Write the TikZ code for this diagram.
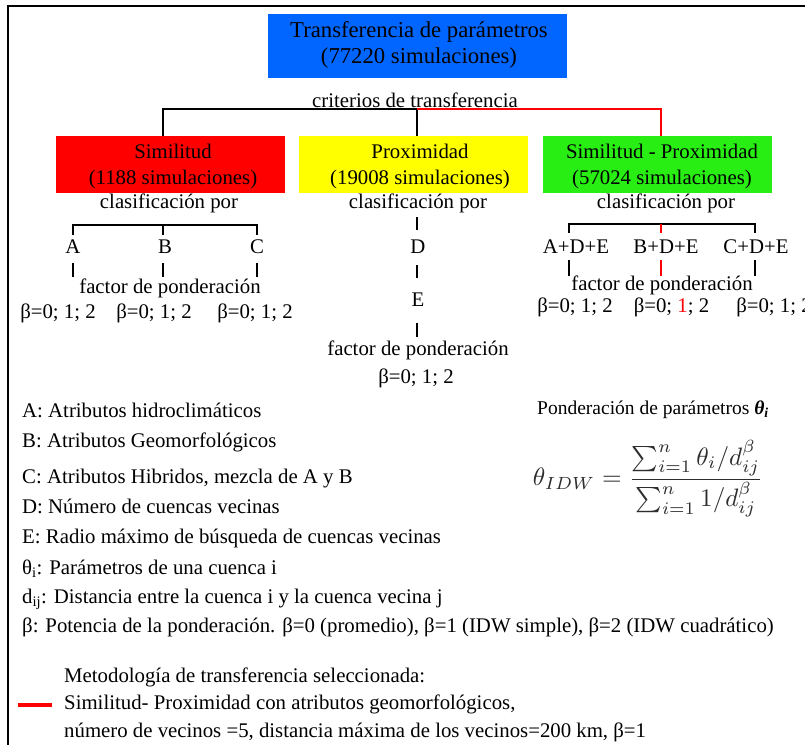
\documentclass[tikz,border=0pt]{standalone}
\usepackage{fontspec}
\setmainfont{Liberation Serif}
\usepackage{amsmath}
\definecolor{tblue}{RGB}{0,102,255}
\definecolor{tred}{RGB}{255,0,0}
\definecolor{tyellow}{RGB}{255,255,0}
\definecolor{tgreen}{RGB}{40,238,20}
\definecolor{fgray}{RGB}{45,45,45}
\begin{document}
\begin{tikzpicture}[x=1pt,y=-1pt,
  lbl/.style={inner sep=0pt, font=\fontsize{20.8}{26}\selectfont},
  ttl/.style={inner sep=0pt, font=\fontsize{22.7}{26}\selectfont, align=center},
  cbox/.style={draw=none, inner sep=0pt, minimum width=229pt, minimum height=57pt},
  tline/.style={line width=1.8pt},
  leg/.style={inner sep=0pt, anchor=base west, font=\fontsize{20.8}{26}\selectfont},
]
\useasboundingbox (0,0) rectangle (805,744);
\clip (0,0) rectangle (805,744);
\fill[white] (0,0) rectangle (805,744);
\draw[line width=2pt] (7.5,760) -- (7.5,6) -- (820,6);

% title
\node[cbox, fill=tblue, minimum width=299pt, minimum height=64pt] (top) at (417.5,46) {};
\node[ttl] (toptxt) at (419,45) {Transferencia de parámetros\\(77220 simulaciones)};
\node[lbl] (crit) at (415,100) {criterios de transferencia};

% boxes
\node[cbox, fill=tred] (sim) at (170,164.5) {};
\node[cbox, fill=tyellow] (prox) at (413,164.5) {};
\node[cbox, fill=tgreen] (sp) at (657.5,164.5) {};
\node[lbl, align=center] (simtxt) at (173,166) {Similitud\\(1188 simulaciones)};
\node[lbl, align=center] (proxtxt) at (420,166) {Proximidad\\(19008 simulaciones)};
\node[lbl, align=center] (sptxt) at (662,166) {Similitud - Proximidad\\(57024 simulaciones)};

% top connectors
\coordinate (j1) at (163,109);
\coordinate (j2) at (417,109);
\coordinate (j3) at (661,109);
\draw[tline] (j1 |- sim.north) -- (j1) -- (j2) -- (j2 |- prox.north);
\draw[tline, tred] (j2) -- (j3) -- (j3 |- sp.north);

% left subtree
\node[lbl] (cl1) at (169,203) {clasificación por};
\node[lbl] (A) at (73,247) {A};
\node[lbl] (B) at (165,247) {B};
\node[lbl] (C) at (257,247) {C};
\coordinate (la1) at (73,225); \coordinate (la2) at (73,235);
\coordinate (lb1) at (163,225); \coordinate (lb2) at (163,235);
\coordinate (lc1) at (257,225); \coordinate (lc2) at (257,235);
\draw[tline] (la2) -- (la1) -- (lc1) -- (lc2);
\draw[tline] (lb1) -- (lb2);
\coordinate (la3) at (73,263); \coordinate (la4) at (73,277);
\coordinate (lb3) at (163,263); \coordinate (lb4) at (163,277);
\coordinate (lc3) at (257,263); \coordinate (lc4) at (257,277);
\draw[tline] (la3) -- (la4);
\draw[tline] (lb3) -- (lb4);
\draw[tline] (lc3) -- (lc4);
\node[lbl] (f1) at (170,288) {factor de ponderación};
\node[lbl] (b1) at (58,313) {β=0; 1; 2};
\node[lbl] (b2) at (154,313) {β=0; 1; 2};
\node[lbl] (b3) at (255,313) {β=0; 1; 2};

% middle subtree
\node[lbl] (cl2) at (418,203) {clasificación por};
\node[lbl] (D) at (418,247) {D};
\node[lbl] (E) at (418,300) {E};
\coordinate (m1) at (417,217); \coordinate (m2) at (417,230);
\coordinate (m3) at (417,265); \coordinate (m4) at (417,278);
\coordinate (m5) at (417,323); \coordinate (m6) at (417,337);
\draw[tline] (m1) -- (m2);
\draw[tline] (m3) -- (m4);
\draw[tline] (m5) -- (m6);
\node[lbl] (f2) at (418,350) {factor de ponderación};
\node[lbl] (b4) at (416,378) {β=0; 1; 2};

% right subtree
\node[lbl] (cl3) at (666,203) {clasificación por};
\node[lbl] (ADE) at (576,247) {A+D+E};
\node[lbl] (BDE) at (666,247) {B+D+E};
\node[lbl] (CDE) at (756,247) {C+D+E};
\coordinate (r1) at (569,224); \coordinate (r2) at (569,233);
\coordinate (r3) at (661,224); \coordinate (r4) at (661,233);
\coordinate (r5) at (755,224); \coordinate (r6) at (755,233);
\draw[tline] (r2) -- (r1) -- (r5) -- (r6);
\draw[tline, tred] (r3) -- (r4);
\coordinate (s1) at (569,260); \coordinate (s2) at (569,276);
\coordinate (s3) at (661,260); \coordinate (s4) at (661,276);
\coordinate (s5) at (755,260); \coordinate (s6) at (755,276);
\draw[tline] (s1) -- (s2);
\draw[tline, tred] (s3) -- (s4);
\draw[tline] (s5) -- (s6);
\node[lbl] (f3) at (662,285) {factor de ponderación};
\node[lbl] (b5) at (575,307) {β=0; 1; 2};
\node[lbl] (b6) at (671.5,307) {β=0; \textcolor{tred}{1}; 2};
\node[lbl] (b7) at (774,307) {β=0; 1; 2};

% legend
\node[leg] (lA) at (22,417) {A: Atributos hidroclimáticos};
\node[leg] (lB) at (22,447) {B: Atributos Geomorfológicos};
\node[leg] (lC) at (22,483) {C: Atributos Hibridos, mezcla de A y B};
\node[leg] (lD) at (22,513) {D: Número de cuencas vecinas};
\node[leg] (lE) at (22,543) {E: Radio máximo de búsqueda de cuencas vecinas};
\node[leg] (lT) at (22,574) {θ\textsubscript{i}: Parámetros de una cuenca i};
\node[leg] (ld) at (22,603) {d\textsubscript{ij}: Distancia entre la cuenca i y la cuenca vecina j};
\node[leg] (lb) at (22,632) {β: Potencia de la ponderación. β=0 (promedio), β=1 (IDW simple), β=2 (IDW cuadrático)};
\node[leg] (m1t) at (64,682) {Metodología de transferencia seleccionada:};
\node[leg] (m2t) at (64,709) {Similitud- Proximidad con atributos geomorfológicos,};
\node[leg] (m3t) at (64,737) {número de vecinos =5, distancia máxima de los vecinos=200 km, β=1};
\coordinate (rl1) at (18,705); \coordinate (rl2) at (52,705);
\draw[line width=4pt, tred] (rl1) -- (rl2);

% formula
\node[inner sep=0pt, anchor=west, font=\fontsize{19.5}{24}\selectfont] (pond) at (537,410) {Ponderación de parámetros \textbf{\textit{θ}}\textsubscript{\textbf{\textit{i}}}};
\node[inner sep=0pt, text=fgray, scale=2.52] (form) at (648,479) {$\theta_{IDW}=\dfrac{\sum_{i=1}^{n}\theta_i/d_{ij}^{\beta}}{\sum_{i=1}^{n}1/d_{ij}^{\beta}}$};
\end{tikzpicture}
\end{document}
